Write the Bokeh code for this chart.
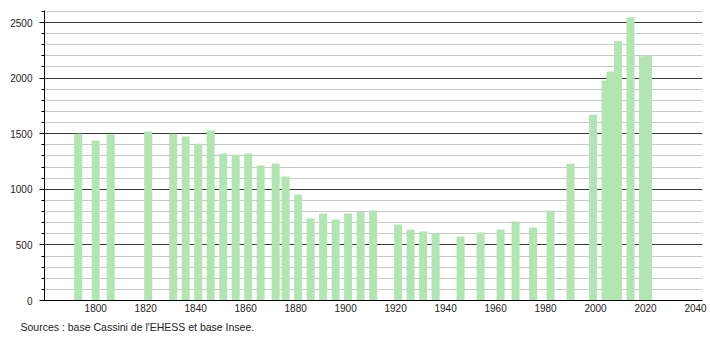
from bokeh.plotting import figure
from bokeh.models import Range1d, SingleIntervalTicker, FixedTicker, Title, ColumnDataSource
from bokeh.embed import file_html
from bokeh.resources import INLINE

years = [1793, 1800, 1806, 1821, 1831, 1836, 1841, 1846, 1851, 1856, 1861, 1866,
         1872, 1876, 1881, 1886, 1891, 1896, 1901, 1906, 1911, 1921, 1926, 1931,
         1936, 1946, 1954, 1962, 1968, 1975, 1982, 1990, 1999, 2004, 2006, 2009,
         2014, 2019, 2021]
population = [1499, 1439, 1493, 1520, 1499, 1475, 1409, 1529, 1322, 1310, 1322, 1214,
              1232, 1115, 953, 737, 782, 728, 782, 797, 809, 683, 638, 620,
              602, 575, 611, 638, 710, 656, 809, 1229, 1670, 1978, 2059, 2332,
              2548, 2197, 2203]
x_ticks = [1800, 1820, 1840, 1860, 1880, 1900, 1920, 1940, 1960, 1980, 2000, 2020, 2040]
source_text = "Sources : base Cassini de l'EHESS et base Insee."

src = ColumnDataSource(data=dict(year=years, pop=population))

p = figure(width=710, height=340, output_backend="svg", toolbar_location=None,
           x_range=Range1d(1779.5, 2042.8), y_range=Range1d(0, 2608),
           min_border_left=44, min_border_right=8, min_border_top=10, min_border_bottom=40)

p.vbar(x="year", top="pop", width=3.2, bottom=0, source=src,
       fill_color="#b1e5b1", line_color=None)

p.outline_line_color = None
p.background_fill_color = "white"
p.border_fill_color = "white"

p.xgrid.grid_line_color = None
p.ygrid.ticker = SingleIntervalTicker(interval=500, num_minor_ticks=5)
p.ygrid.grid_line_color = "#3a3a3a"
p.ygrid.grid_line_width = 1
p.ygrid.minor_grid_line_color = "#c8c8c8"
p.ygrid.level = "underlay"

p.yaxis.ticker = SingleIntervalTicker(interval=500, num_minor_ticks=5)
p.yaxis.major_tick_out = 5
p.yaxis.major_tick_in = 0
p.yaxis.minor_tick_out = 3
p.yaxis.minor_tick_in = 0
p.yaxis.axis_line_color = "black"
p.yaxis.major_label_standoff = 7
p.yaxis.major_label_text_font = "Liberation Sans"
p.yaxis.major_label_text_font_size = "10px"
p.yaxis.major_label_text_color = "#222222"

p.xaxis.ticker = FixedTicker(ticks=x_ticks)
p.xaxis.major_tick_out = 0
p.xaxis.major_tick_in = 0
p.xaxis.minor_tick_out = 0
p.xaxis.minor_tick_in = 0
p.xaxis.axis_line_color = "black"
p.xaxis.major_label_standoff = 3
p.xaxis.major_label_text_font = "Liberation Sans"
p.xaxis.major_label_text_font_size = "10px"
p.xaxis.major_label_text_color = "#222222"

footer = Title(text=source_text, align="left", offset=-24,
               text_font="Liberation Sans", text_font_size="10.5px",
               text_font_style="normal", text_color="#222222", standoff=9)
p.add_layout(footer, "below")

open("out.html", "w").write(file_html(p, INLINE))
